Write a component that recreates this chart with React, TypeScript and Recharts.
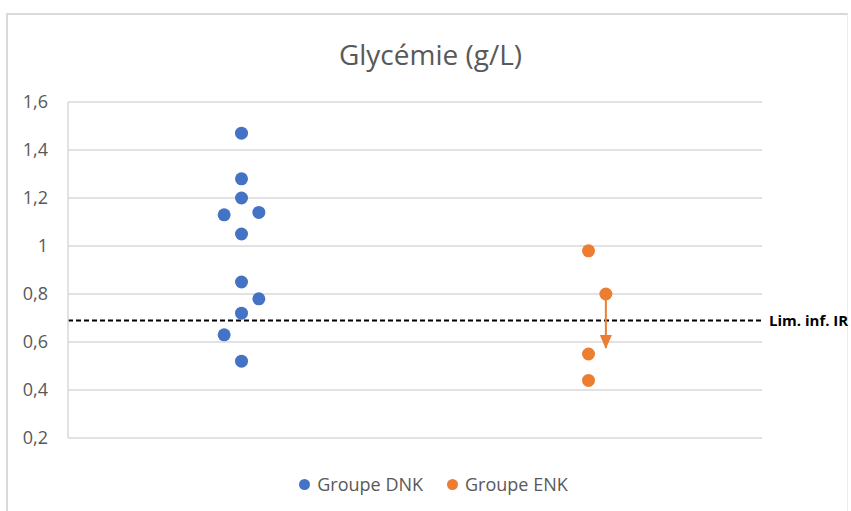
import {
  CartesianGrid,
  Legend,
  ReferenceLine,
  Scatter,
  ScatterChart,
  XAxis,
  YAxis,
} from "recharts";

const BLUE = "#4472C4";
const ORANGE = "#ED7D31";
const GRID = "#d9d9d9";
const TEXT = "#595959";
const FONT = "'Open Sans', sans-serif";

const SERIES_NAMES = ["Groupe DNK", "Groupe ENK"];
const Y_TICKS = [0.2, 0.4, 0.6, 0.8, 1, 1.2, 1.4, 1.6];
const Y_TICK_LABELS = ["0,2", "0,4", "0,6", "0,8", "1", "1,2", "1,4", "1,6"];
const LIMIT_VALUE = 0.69;
const LIMIT_LABEL = "Lim. inf. IR";

// x position (jitter around group 1 and group 3) and glycémie value
const dnkX = [1, 1, 1, 0.9, 1.1, 1, 1, 1.1, 1, 0.9, 1];
const dnkY = [1.47, 1.28, 1.2, 1.13, 1.14, 1.05, 0.85, 0.78, 0.72, 0.63, 0.52];
const enkX = [3, 3.1, 3, 3];
const enkY = [0.98, 0.8, 0.55, 0.44];
const arrowX = [3.1, 3.1];
const arrowY = [0.8, 0.575];

const dnk = dnkX.map((x, i) => ({ x, y: dnkY[i] }));
const enk = enkX.map((x, i) => ({ x, y: enkY[i] }));
const arrow = arrowX.map((x, i) => ({ x, y: arrowY[i], head: i === 1 }));

const dot = (color: string) => (props: any) => (
  <circle cx={props.cx} cy={props.cy} r={6.5} fill={color} />
);

const arrowShape = (props: any) => {
  if (!props.payload?.head) return <g />;
  const { cx, cy } = props;
  return (
    <path
      d={`M${cx - 6},${cy - 13} L${cx + 6},${cy - 13} L${cx},${cy + 1} Z`}
      fill={ORANGE}
    />
  );
};

function LegendContent() {
  const colors = [BLUE, ORANGE];
  return (
    <div
      style={{
        display: "flex",
        justifyContent: "center",
        fontFamily: FONT,
        fontSize: 18,
        lineHeight: "24px",
        color: TEXT,
      }}
    >
      {SERIES_NAMES.map((name, i) => (
        <div
          key={name}
          style={{ display: "flex", alignItems: "center", marginLeft: i ? 24 : 0 }}
        >
          <span
            style={{
              width: 11,
              height: 11,
              borderRadius: "50%",
              background: colors[i],
              marginRight: 7,
              display: "inline-block",
            }}
          />
          <span>{name}</span>
        </div>
      ))}
    </div>
  );
}

export default function App() {
  return (
    <div
      style={{
        position: "absolute",
        left: 0,
        top: 0,
        width: 851,
        height: 511,
        background: "#fff",
        overflow: "hidden",
        fontFamily: FONT,
      }}
    >
      <div
        style={{
          position: "absolute",
          left: 6,
          top: 13,
          width: 842,
          height: 520,
          borderTop: `2px solid ${GRID}`,
          borderLeft: `2px solid ${GRID}`,
          borderRight: `1px solid #ececec`,
          boxSizing: "border-box",
        }}
      />
      <div
        style={{
          position: "absolute",
          left: 0,
          top: 35,
          width: 861,
          textAlign: "center",
          fontSize: 28,
          lineHeight: "38px",
          color: TEXT,
        }}
      >
        Glycémie (g/L)
      </div>
      <ScatterChart
        width={851}
        height={511}
        margin={{ top: 102, right: 89, bottom: 73, left: 0 }}
        style={{ position: "absolute", left: 0, top: 0 }}
      >
        <CartesianGrid horizontal vertical={false} stroke={GRID} strokeWidth={1.5} />
        <XAxis type="number" dataKey="x" domain={[0, 4]} hide />
        <YAxis
          type="number"
          dataKey="y"
          domain={[0.2, 1.6]}
          ticks={Y_TICKS}
          width={68}
          tickSize={0}
          tickMargin={20}
          axisLine={{ stroke: GRID, strokeWidth: 1.5 }}
          tickLine={false}
          tick={{ fill: TEXT, fontSize: 18, fontFamily: FONT }}
          tickFormatter={(v: number) => Y_TICK_LABELS[Y_TICKS.indexOf(v)] ?? String(v)}
        />
        <ReferenceLine
          y={LIMIT_VALUE}
          stroke="#000"
          strokeWidth={2}
          strokeDasharray="5 3"
          label={{
            value: LIMIT_LABEL,
            position: "right",
            offset: 7,
            fill: "#000",
            fontSize: 15,
            fontWeight: 700,
            fontFamily: FONT,
          }}
        />
        <Scatter
          name="arrow"
          data={arrow}
          line={{ stroke: ORANGE, strokeWidth: 2 }}
          shape={arrowShape}
          isAnimationActive={false}
          legendType="none"
        />
        <Scatter
          name={SERIES_NAMES[0]}
          data={dnk}
          fill={BLUE}
          shape={dot(BLUE)}
          isAnimationActive={false}
        />
        <Scatter
          name={SERIES_NAMES[1]}
          data={enk}
          fill={ORANGE}
          shape={dot(ORANGE)}
          isAnimationActive={false}
        />
        <Legend
          verticalAlign="middle"
          align="center"
          layout="horizontal"
          content={<LegendContent />}
          wrapperStyle={{ position: "absolute", top: 472, left: 8, width: 851 }}
        />
      </ScatterChart>
    </div>
  );
}
